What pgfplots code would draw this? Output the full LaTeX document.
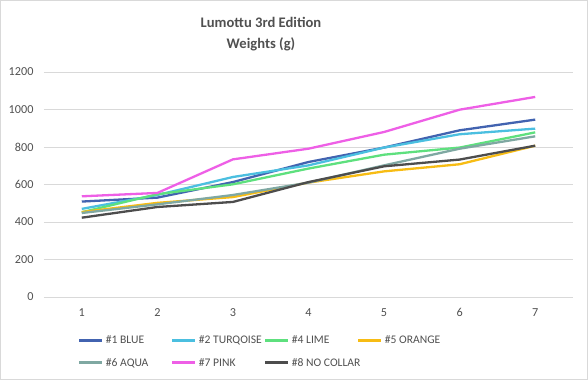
\documentclass[border=0pt]{standalone}
\usepackage{pgfplots}
\pgfplotsset{compat=1.18}
\usepackage{fontspec}
\setmainfont{Carlito}
\definecolor{cBlue}{HTML}{4263B0}
\definecolor{cTurq}{HTML}{4BBFE0}
\definecolor{cLime}{HTML}{5EE07E}
\definecolor{cOrange}{HTML}{F7BC14}
\definecolor{cAqua}{HTML}{7FA8A2}
\definecolor{cPink}{HTML}{EE5FE6}
\definecolor{cBlack}{HTML}{4D4D4D}
\definecolor{cText}{HTML}{505050}
\definecolor{cGrid}{HTML}{D9D9D9}
\newcommand{\legbox}[1]{\makebox[63pt][l]{#1}}
\begin{document}
\begin{tikzpicture}[x=1pt,y=1pt]
\draw[color=cGrid, line width=1pt] (0.5,0.5) rectangle (587.5,379.5);
\node[font=\bfseries\fontsize{14.6}{21}\selectfont, text=cText, align=center] at (261,345.5) {Lumottu 3rd Edition\\Weights (g)};
\begin{axis}[
  at={(44pt,83pt)}, anchor=south west, scale only axis,
  width=529pt, height=225pt,
  xmin=0.5, xmax=7.5, ymin=0, ymax=1200,
  xtick={1,...,7}, ytick={0,200,...,1200},
  ymajorgrids, grid style={color=cGrid, line width=0.8pt},
  axis line style={draw=none},
  major tick length=0pt,
  tick label style={font=\fontsize{12.2}{14}\selectfont, text=cText},
  /pgf/number format/assume math mode=true,
  /pgf/number format/1000 sep={},
  yticklabel style={xshift=-7pt},
  xticklabel style={yshift=-8pt},
  legend columns=4,
  legend cell align=left,
  legend style={at={(0.058,-0.149)}, anchor=north west, draw=none, fill=none,
    font=\fontsize{11.6}{14}\selectfont, text=cText,
    nodes={inner xsep=2pt, text height=9pt, text depth=2pt},
    row sep=7.5pt},
  legend image code/.code={\draw[line width=3pt] (0pt,0pt) -- (23pt,0pt);},
  every axis plot/.append style={line width=2.3pt, mark=none},
]
\addplot[cBlue] coordinates {(1,509) (2,530) (3,613) (4,720) (5,797) (6,889) (7,946)};
\addlegendentry{\legbox{\#1 BLUE}}
\addplot[cTurq] coordinates {(1,470) (2,544) (3,640) (4,702) (5,797) (6,868) (7,898)};
\addlegendentry{\legbox{\#2 TURQOISE}}
\addplot[cLime] coordinates {(1,452) (2,548) (3,601) (4,685) (5,759) (6,797) (7,878)};
\addlegendentry{\legbox{\#4 LIME}}
\addplot[cOrange] coordinates {(1,453) (2,502) (3,533) (4,610) (5,670) (6,708) (7,807)};
\addlegendentry{\legbox{\#5 ORANGE}}
\addplot[cAqua] coordinates {(1,448) (2,494) (3,544) (4,610) (5,702) (6,791) (7,857)};
\addlegendentry{\legbox{\#6 AQUA}}
\addplot[cPink] coordinates {(1,537) (2,555) (3,734) (4,791) (5,880) (6,999) (7,1067)};
\addlegendentry{\legbox{\#7 PINK}}
\addplot[cBlack] coordinates {(1,423) (2,480) (3,507) (4,613) (5,697) (6,733) (7,807)};
\addlegendentry{\legbox{\#8 NO COLLAR}}
\end{axis}
\end{tikzpicture}
\end{document}
